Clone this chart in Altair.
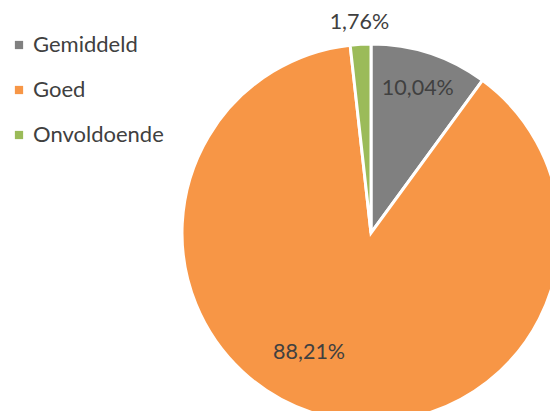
import altair as alt
import pandas as pd

categories = ["Gemiddeld", "Goed", "Onvoldoende"]
values = [10.04, 88.21, 1.76]
labels = ["10,04%", "88,21%", "1,76%"]
colors = ["#808080", "#F79646", "#9BBB59"]

df = pd.DataFrame({"cat": categories, "val": values, "label": labels, "order": [0, 1, 2]})

CX, CY, R = 363, 225, 189
FONT = "Lato"

base = alt.Chart(df).encode(
    theta=alt.Theta("val:Q", stack=True),
    order=alt.Order("order:Q"),
)

color = alt.Color(
    "cat:N",
    scale=alt.Scale(domain=categories, range=colors),
    legend=alt.Legend(
        title=None,
        orient="none",
        legendX=0,
        legendY=26,
        symbolType="square",
        symbolSize=68,
        symbolStrokeWidth=0,
        labelFont=FONT,
        labelFontSize=22,
        labelColor="#404040",
        rowPadding=23,
        labelOffset=3,
    ),
)

arcs = base.mark_arc(stroke="white", strokeWidth=3, radius=R).encode(
    color=color,
    x=alt.value(CX),
    y=alt.value(CY),
)

# label placement per category: (label radius, horizontal shift)
label_place = {"Gemiddeld": (151, 0), "Goed": (124, -30), "Onvoldoende": (210, 0)}

text_layers = []
for cat, (rad, dx) in label_place.items():
    text_layers.append(
        base.mark_text(
            font=FONT, fontSize=21.5, color="#404040", radius=rad, dx=dx
        ).encode(
            text="label:N",
            x=alt.value(CX),
            y=alt.value(CY),
            opacity=alt.when(alt.datum.cat == cat).then(alt.value(1)).otherwise(alt.value(0)),
        )
    )

chart = (
    alt.layer(arcs, *text_layers)
    .properties(width=542, height=403, padding=0, autosize=alt.AutoSizeParams(type="none"))
    .configure_view(strokeWidth=0, stroke="transparent")
)

chart.save("out.html", embed_options={"renderer": "svg", "actions": False})
